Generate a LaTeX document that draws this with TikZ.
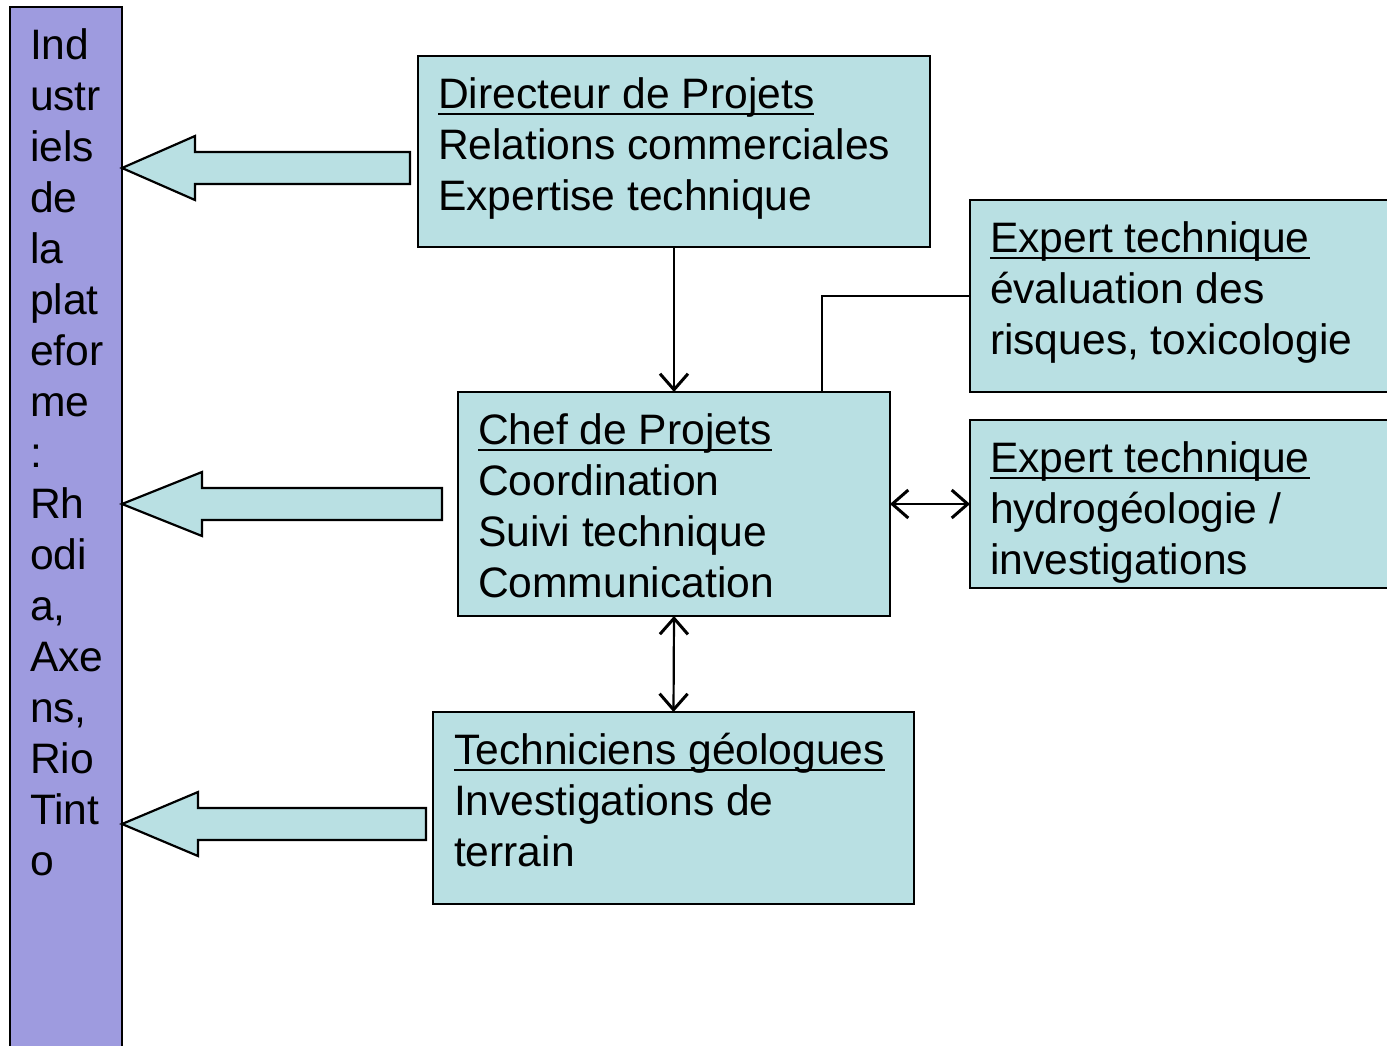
\documentclass[tikz,border=0pt]{standalone}
\usepackage{fontspec}
\setmainfont{Liberation Sans}
\usetikzlibrary{arrows.meta,calc}
\definecolor{boxfill}{HTML}{B9E0E3}
\definecolor{barfill}{HTML}{9E9BDF}
\newcommand\ulx[1]{\setbox0\hbox{#1}\rlap{\rule[-3.7pt]{\wd0}{1.1pt}}\box0}
\newcommand\lines[1]{\vtop{\fontsize{21.3pt}{25.5pt}\selectfont #1}}
\tikzset{
  box/.style={draw=black, line width=1.2pt, fill=boxfill, rectangle, inner sep=0pt, outer sep=0pt},
  bar/.style={draw=black, line width=1.2pt, fill=barfill, rectangle, inner sep=0pt, outer sep=0pt},
  txt/.style={anchor=base west, inner sep=0pt, outer sep=0pt},
  blockarrow/.style={draw=black, line width=1.1pt, fill=boxfill, line join=miter},
  conn/.style={draw=black, line width=1.1pt},
  barb/.tip={Straight Barb[length=8pt,width=14pt,line width=1.5pt]}
}
\begin{document}
\begin{tikzpicture}[x=0.5pt,y=-0.5pt]
\useasboundingbox (0,0) rectangle (1387,1045);
\clip (0,0) rectangle (1387,1045);
\fill[white] (0,0) rectangle (1387,1045);
% left bar
\node[bar, minimum width=56pt, minimum height=531.5pt] (bar) at (66,538.5) {};
\node[txt] (bartxt) at (30,59) {\lines{\hbox{Ind}\hbox{ustr}\hbox{iels}\hbox{de}\hbox{la}\hbox{plat}\hbox{efor}\hbox{me}\hbox{:}\hbox{Rh}\hbox{odi}\hbox{a,}\hbox{Axe}\hbox{ns,}\hbox{Rio}\hbox{Tint}\hbox{o}}};
% boxes
\node[box, minimum width=256pt, minimum height=95.5pt] (dir) at (674,151.5) {};
\node[box, minimum width=225pt, minimum height=96pt] (exp1) at (1195,296) {};
\node[box, minimum width=216pt, minimum height=112pt] (chef) at (674,504) {};
\node[box, minimum width=225pt, minimum height=84pt] (exp2) at (1195,504) {};
\node[box, minimum width=240.5pt, minimum height=96pt] (tech) at (673.5,808) {};
% texts
\node[txt] (dirtxt) at (438,108) {\lines{\hbox{\ulx{Directeur de Projets}}\hbox{Relations commerciales}\hbox{Expertise technique}}};
\node[txt] (exp1txt) at (990,252) {\lines{\hbox{\ulx{Expert technique}}\hbox{évaluation des}\hbox{risques, toxicologie}}};
\node[txt] (cheftxt) at (478,444) {\lines{\hbox{\ulx{Chef de Projets}}\hbox{Coordination}\hbox{Suivi technique}\hbox{Communication}}};
\node[txt] (exp2txt) at (990,472) {\lines{\hbox{\ulx{Expert technique}}\hbox{hydrogéologie /}\hbox{investigations}}};
\node[txt] (techtxt) at (454,764) {\lines{\hbox{\ulx{Techniciens géologues}}\hbox{Investigations de}\hbox{terrain}}};
% block arrows
\path[blockarrow] (410,152) -- (195,152) -- (195,136) -- (122,168) -- (195,200) -- (195,184) -- (410,184) -- cycle;
\path[blockarrow] (442,488) -- (202,488) -- (202,472) -- (122,504) -- (202,536) -- (202,520) -- (442,520) -- cycle;
\path[blockarrow] (426,808) -- (198,808) -- (198,792) -- (122,824) -- (198,856) -- (198,840) -- (426,840) -- cycle;
% connectors
\draw[conn, -{barb}] (dir.south) -- (chef.north);
\draw[conn] (exp1.west) -| ($(chef.north east)+(-68,0)$);
\draw[conn, {barb}-{barb}] (chef.east) -- (exp2.west);
\draw[conn, {barb}-{barb}] (chef.south) -- (tech.north);
\end{tikzpicture}
\end{document}
